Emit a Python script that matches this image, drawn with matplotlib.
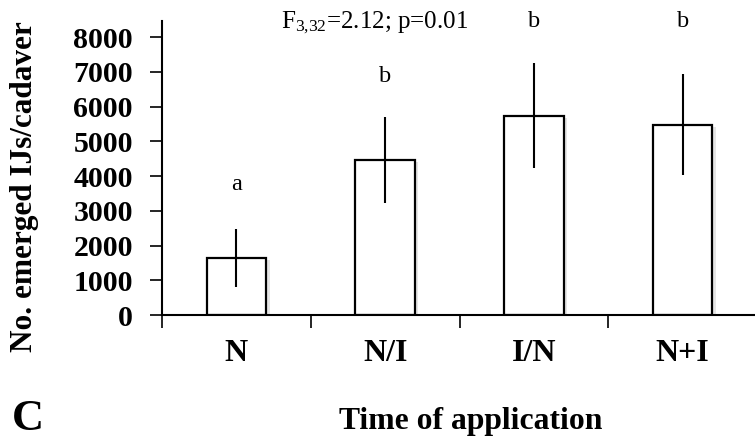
import matplotlib
matplotlib.use("Agg")
import matplotlib.pyplot as plt
import matplotlib.patheffects as pe
import numpy as np

plt.rcParams["font.family"] = ["Liberation Serif", "DejaVu Serif"]
plt.rcParams["mathtext.fontset"] = "custom"
plt.rcParams["mathtext.rm"] = "Liberation Serif"
plt.rcParams["mathtext.it"] = "Liberation Serif:italic"
plt.rcParams["mathtext.bf"] = "Liberation Serif:bold"

# Emerged infective juveniles per cadaver by application timing
treatments = ["N", "N/I", "I/N", "N+I"]
mean_ijs = [1650, 4470, 5740, 5480]
se_ijs = [830, 1240, 1500, 1460]
group_letters = ["a", "b", "b", "b"]
letter_heights = [3600, 6720, 8290, 8290]
y_ticks = [0, 1000, 2000, 3000, 4000, 5000, 6000, 7000, 8000]
stats_text = r"F$_\mathrm{3{,}32}$=2.12; p=0.01"

fig = plt.figure(figsize=(7.55, 4.43), dpi=100)
ax = fig.add_axes([162 / 755, 1 - 315 / 443, 595 / 755, (315 - 20.7) / 443])

x = np.arange(1, len(treatments) + 1)
bars = ax.bar(x, mean_ijs, width=0.4, color="white", edgecolor="black",
              linewidth=1.6, zorder=2)
for b in bars:
    b.set_path_effects([pe.SimplePatchShadow(offset=(2.5, -1.5), shadow_rgbFace="0.6",
                                             alpha=0.25), pe.Normal()])
ax.errorbar(x, mean_ijs, yerr=se_ijs, fmt="none", ecolor="black",
            elinewidth=1.5, capsize=0, zorder=3)

ax.set_xlim(0.5, len(treatments) + 0.5)
ax.set_ylim(0, 8470)

# category boundary ticks, labels at category centres
ax.set_xticks(np.arange(0.5, len(treatments) + 1, 1.0))
ax.set_xticklabels([])
ax.set_xticks(x, minor=True)
ax.set_xticklabels(treatments, minor=True, fontsize=23, fontweight="bold")
ax.tick_params(axis="x", which="major", direction="out", length=9, width=1.2)
ax.tick_params(axis="x", which="minor", length=0, pad=17)

ax.set_yticks(y_ticks)
ax.set_yticklabels([str(t) for t in y_ticks], fontsize=21.5, fontweight="bold")
ax.tick_params(axis="y", direction="out", length=9, width=1.2, pad=12)

for side in ["top", "right"]:
    ax.spines[side].set_visible(False)
for side in ["left", "bottom"]:
    ax.spines[side].set_linewidth(1.5)

for xi, lab, h in zip(x, group_letters, letter_heights):
    ax.text(xi, h, lab, ha="center", va="baseline", fontsize=17.5)

ax.text(1.93, 8270, stats_text, ha="center", va="baseline", fontsize=18)

fig.text(25 / 755, 1 - 187 / 443, "No. emerged IJs/cadaver", rotation=90,
         ha="center", va="center", fontsize=22.5, fontweight="bold")
fig.text(471 / 755, 1 - 421 / 443, "Time of application", ha="center",
         va="center", fontsize=22.8, fontweight="bold")
fig.text(28 / 755, 1 - 419 / 443, "C", ha="center", va="center",
         fontsize=32, fontweight="bold")

fig.savefig("out.png", dpi=100)
